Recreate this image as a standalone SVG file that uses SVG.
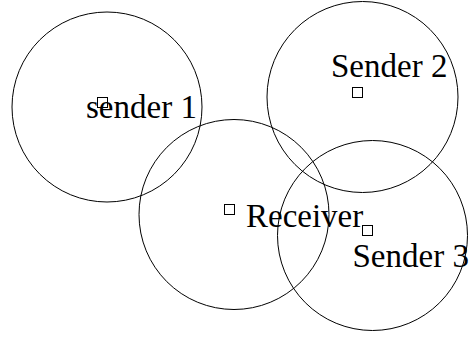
<svg xmlns="http://www.w3.org/2000/svg" width="470" height="338" viewBox="0 0 470 338">
  <style>
    .range { fill: none; stroke: #000; stroke-width: 1; }
    .node { fill: none; stroke: #000; stroke-width: 1; }
    .label { font-family: "Liberation Serif", "Times New Roman", serif; font-size: 33px; fill: #000; }
  </style>
  <rect width="470" height="338" fill="#fff"/>
  <!-- transmission ranges -->
  <g id="ranges">
    <circle class="range" cx="107" cy="107" r="95"/>
    <circle class="range" cx="362.5" cy="97" r="95.5"/>
    <circle class="range" cx="234" cy="214.5" r="95"/>
    <circle class="range" cx="372.5" cy="235.5" r="95"/>
  </g>
  <g id="sender1">
    <text class="label" x="86" y="118">sender 1</text>
    <rect class="node" x="97.5" y="97.5" width="10" height="10"/>
  </g>
  <g id="sender2">
    <text class="label" x="331" y="76.5">Sender 2</text>
    <rect class="node" x="352.5" y="87.5" width="10" height="10"/>
  </g>
  <g id="receiver">
    <text class="label" x="246" y="226.5">Receiver</text>
    <rect class="node" x="224.5" y="204.5" width="10" height="10"/>
  </g>
  <g id="sender3">
    <text class="label" x="352.5" y="266.5">Sender 3</text>
    <rect class="node" x="362.5" y="225.5" width="10" height="10"/>
  </g>
</svg>
